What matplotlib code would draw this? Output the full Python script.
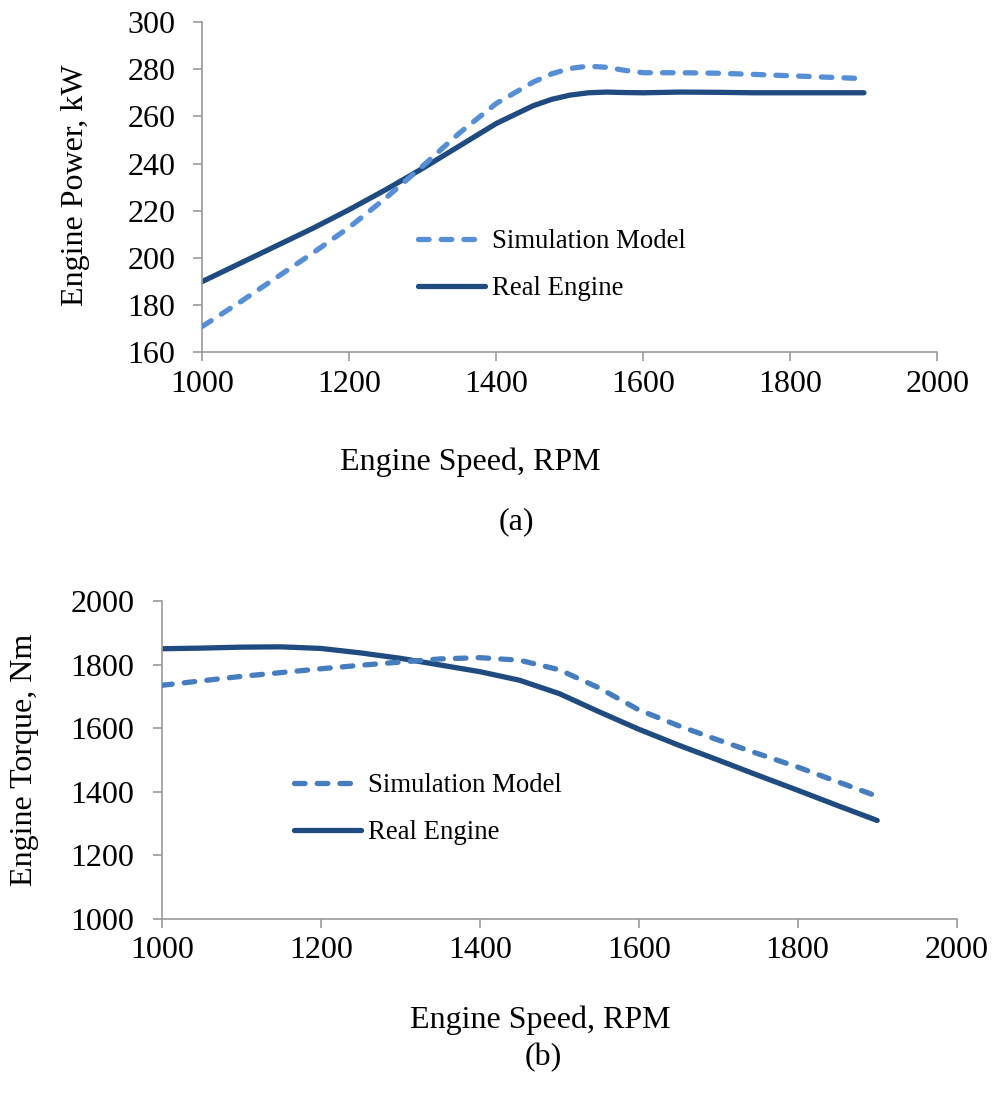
import matplotlib
matplotlib.use("Agg")
import matplotlib.pyplot as plt

# --- data ---
rpm_p = [1000, 1050, 1100, 1150, 1200, 1250, 1300, 1350, 1400, 1450,
         1475, 1500, 1525, 1550, 1575, 1600, 1650, 1700, 1750, 1800, 1850, 1900]
power_sim = [171, 181, 191.5, 202, 213, 225.5, 239, 253, 265.5, 274.5,
             278, 280.3, 281.3, 280.8, 279.5, 278.5, 278.5, 278.3, 277.8, 277.2, 276.6, 276]
power_real = [190, 197.5, 205, 212.5, 220.5, 229, 238, 247.5, 257, 264.5,
              267.2, 269, 270, 270.3, 270.1, 270, 270.3, 270.2, 270, 270, 270, 270]

rpm_t = [1000, 1050, 1100, 1150, 1200, 1250, 1300, 1350, 1400, 1450,
         1500, 1550, 1600, 1650, 1700, 1750, 1800, 1850, 1900]
torque_sim = [1735, 1749, 1763, 1775, 1787, 1798, 1808, 1818, 1822, 1814,
              1784, 1727, 1658, 1608, 1563, 1520, 1478, 1432, 1386]
torque_real = [1850, 1852, 1855, 1856, 1851, 1837, 1820, 1799, 1778, 1751,
               1709, 1652, 1597, 1547, 1500, 1452, 1405, 1357, 1310]

x_ticks = [1000, 1200, 1400, 1600, 1800, 2000]
power_ticks = [160, 180, 200, 220, 240, 260, 280, 300]
torque_ticks = [1000, 1200, 1400, 1600, 1800, 2000]

plt.rcParams['font.family'] = ['Liberation Serif', 'DejaVu Serif']

SIM_TOP = "#568FD6"
SIM_BOT = "#467DBE"
REAL = "#1F4B80"
AXIS_GRAY = "#9A9A9A"
LW = 3.8
FS = 23


def style_axes(ax):
	for side in ['top', 'right']:
		ax.spines[side].set_visible(False)
	for side in ['left', 'bottom']:
		ax.spines[side].set_color(AXIS_GRAY)
		ax.spines[side].set_linewidth(1.2)
	ax.tick_params(axis='both', direction='out', length=6.5, width=1.2,
				   color=AXIS_GRAY, labelsize=FS, labelcolor='black')
	ax.tick_params(axis='x', pad=6)
	ax.tick_params(axis='y', pad=13)


def draw_pair(ax, x, sim, real, sim_color):
	ax.plot(x, sim, color=sim_color, lw=LW, dashes=(2.0, 2.3),
			dash_capstyle='round', dash_joinstyle='round', label="Simulation Model", zorder=3)
	ax.plot(x, real, color=REAL, lw=LW, solid_capstyle='round',
			solid_joinstyle='round', label="Real Engine", zorder=2)


fig = plt.figure(figsize=(9.92, 11), dpi=100)

# --- (a) power ---
ax1 = fig.add_axes([0.2039, 0.6797, 0.7411, 0.3003])
draw_pair(ax1, rpm_p, power_sim, power_real, SIM_TOP)
ax1.set_xlim(1000, 2000)
ax1.set_ylim(160, 300)
ax1.set_xticks(x_ticks)
ax1.set_yticks(power_ticks)
style_axes(ax1)
ax1.set_xlabel("Engine Speed, RPM", fontsize=FS, va='center')
ax1.xaxis.set_label_coords(0.364, -0.332)
ax1.set_ylabel("Engine Power, kW", fontsize=FS, va='center')
ax1.yaxis.set_label_coords(-0.173, 0.505)
ax1.legend(loc='center left', bbox_to_anchor=(418 / 992, 1 - 265 / 1100),
		   bbox_transform=fig.transFigure, frameon=False, fontsize=19.3,
		   handlelength=2.5, handletextpad=0.25, labelspacing=0.82,
		   borderpad=0, borderaxespad=0)

# --- (b) torque ---
ax2 = fig.add_axes([0.1630, 0.1645, 0.8014, 0.2891])
draw_pair(ax2, rpm_t, torque_sim, torque_real, SIM_BOT)
ax2.set_xlim(1000, 2000)
ax2.set_ylim(1000, 2000)
ax2.set_xticks(x_ticks)
ax2.set_yticks(torque_ticks)
style_axes(ax2)
ax2.set_xlabel("Engine Speed, RPM", fontsize=FS, va='center')
ax2.xaxis.set_label_coords(0.476, -0.318)
ax2.set_ylabel("Engine Torque, Nm", fontsize=FS, va='center')
ax2.yaxis.set_label_coords(-0.172, 0.5)
ax2.legend(loc='center left', bbox_to_anchor=(294 / 992, 1 - 809 / 1100),
		   bbox_transform=fig.transFigure, frameon=False, fontsize=19.3,
		   handlelength=2.5, handletextpad=0.25, labelspacing=0.82,
		   borderpad=0, borderaxespad=0)

fig.text(516 / 992, 1 - 522 / 1100, "(a)", fontsize=FS, ha='center', va='center')
fig.text(543 / 992, 1 - 1058 / 1100, "(b)", fontsize=FS, ha='center', va='center')

fig.savefig("out.png", dpi=100)
